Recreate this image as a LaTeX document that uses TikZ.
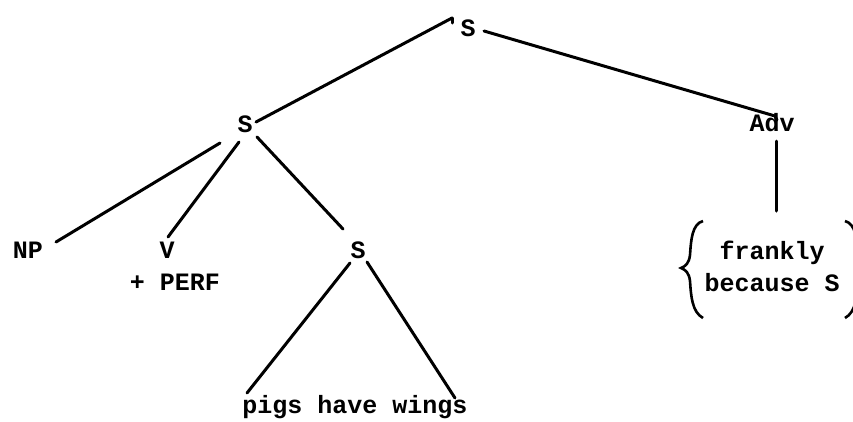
\documentclass[tikz,border=0pt]{standalone}
\usepackage{fontspec}
\setmonofont{Liberation Mono}
\begin{document}
\begin{tikzpicture}[x=1pt,y=-1pt,
  lbl/.style={font=\fontsize{25}{30}\selectfont\ttfamily\bfseries, anchor=base, inner sep=0pt},
  edge/.style={line width=3pt, line cap=round}]
\useasboundingbox (0,0) rectangle (853,421);
% nodes
\node[lbl] (S0) at (468,36) {S};
\node[lbl] (S1) at (245,132) {S};
\node[lbl] (Adv) at (772,131) {Adv};
\node[lbl] (NP) at (28,258) {NP};
\node[lbl] (V) at (167,258) {V};
\node[lbl] (perf) at (175,290) {+ PERF};
\node[lbl] (S2) at (358,258) {S};
\node[lbl] (pigs) at (355,413) {pigs have wings};
\node[lbl] (frankly) at (772,259) {frankly};
\node[lbl] (because) at (772,291) {because S};
% connector ends
\coordinate (S0l) at (452,18);
\coordinate (S0r) at (484,31);
\coordinate (S1t) at (256,122);
\coordinate (Advt) at (775,116);
\coordinate (S1a) at (220,143);
\coordinate (S1b) at (239,142);
\coordinate (S1c) at (257,137);
\coordinate (NPe) at (56,242);
\coordinate (Ve) at (168,237);
\coordinate (S2t) at (343,229);
\coordinate (S2a) at (350,263);
\coordinate (S2b) at (367,262);
\coordinate (pa) at (247,393);
\coordinate (pb) at (455,398);
\coordinate (Advb) at (776,141);
\coordinate (Adve) at (776,211);
% connectors
\draw[edge] (S0l) -- (S1t);
\draw[edge] (S0l) -- ++(0,5);
\draw[edge] (S0r) -- (Advt) -- ++(2,4);
\draw[edge] (S1a) -- (NPe);
\draw[edge] (S1b) -- (Ve);
\draw[edge] (S1c) -- (S2t);
\draw[edge] (S2a) -- (pa);
\draw[edge] (S2b) -- (pb);
\draw[edge] (Advb) -- (Adve);
% braces
\draw[line width=2.6pt] (703,221) .. controls (692,224) and (691,240) .. (690,255)
  .. controls (689,263) and (686,266) .. (681,268)
  .. controls (686,270) and (689,273) .. (690,281)
  .. controls (691,296) and (692,312) .. (703,318);
\draw[line width=2.6pt] (845,221) .. controls (856,224) and (857,240) .. (858,255)
  .. controls (859,263) and (862,266) .. (867,268)
  .. controls (862,270) and (859,273) .. (858,281)
  .. controls (857,296) and (856,312) .. (845,318);
\end{tikzpicture}
\end{document}
